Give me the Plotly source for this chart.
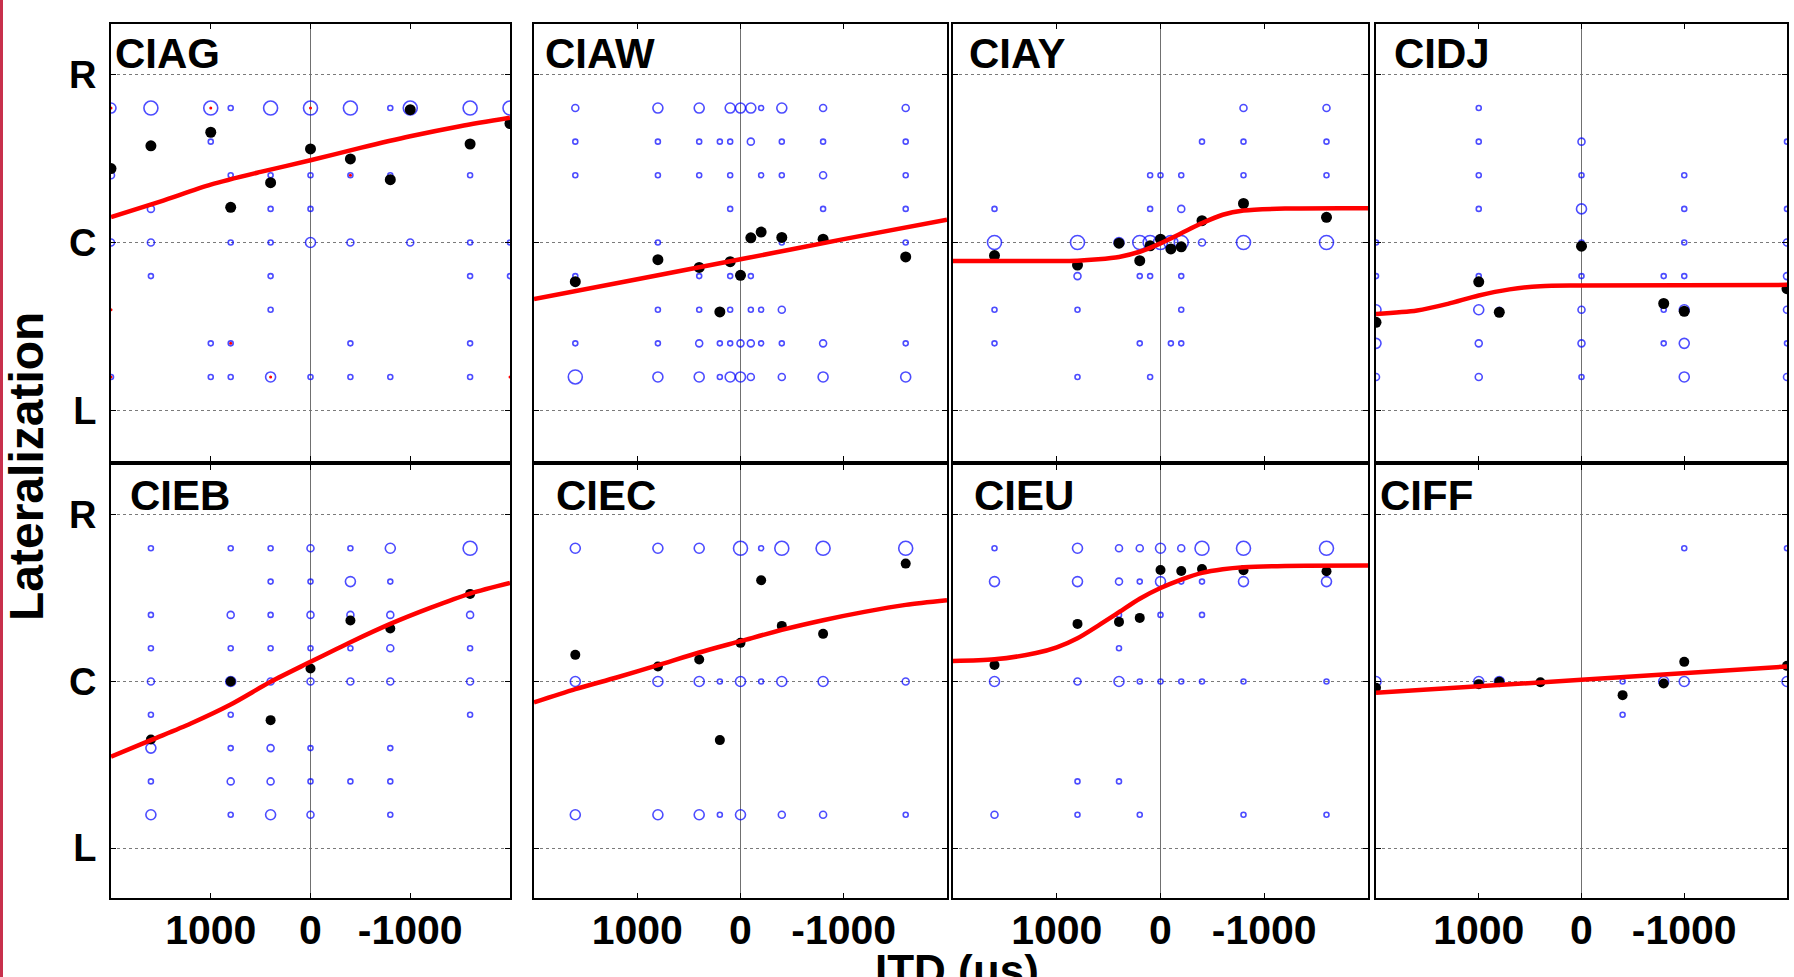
import plotly.graph_objects as go

W, H = 1794, 977

# ---------------- data ----------------
panel_names = ["CIAG", "CIAW", "CIAY", "CIDJ", "CIEB", "CIEC", "CIEU", "CIFF"]

# individual responses: (ITD us, lateralization, count level)
CIAG_resp = [(2000, .8, 3), (1600, .8, 4), (1000, .8, 4), (800, .8, 1), (400, .8, 4), (0, .8, 4), (-400, .8, 4),
             (-800, .8, 1), (-1000, .8, 4), (-1600, .8, 4), (-2000, .8, 4),
             (1000, .6, 1),
             (2000, .4, 2), (800, .4, 1), (400, .4, 1), (0, .4, 1), (-400, .4, 1), (-800, .4, 1), (-1600, .4, 1),
             (1600, .2, 2), (400, .2, 1), (0, .2, 1),
             (2000, 0, 2), (1600, 0, 2), (800, 0, 1), (400, 0, 1), (0, 0, 3), (-400, 0, 2), (-1000, 0, 2),
             (-1600, 0, 1), (-2000, 0, 1),
             (1600, -.2, 1), (400, -.2, 1), (-1600, -.2, 1), (-2000, -.2, 1),
             (400, -.4, 1),
             (1000, -.6, 1), (800, -.6, 1), (-400, -.6, 1), (-1600, -.6, 1),
             (2000, -.8, 1), (1000, -.8, 1), (800, -.8, 1), (400, -.8, 3), (0, -.8, 1), (-400, -.8, 1),
             (-800, -.8, 1), (-1600, -.8, 1)]
CIAW_resp = [(1600, .8, 2), (800, .8, 3), (400, .8, 3), (100, .8, 3), (0, .8, 3), (-100, .8, 3), (-200, .8, 1),
             (-400, .8, 3), (-800, .8, 2), (-1600, .8, 2),
             (1600, .6, 1), (800, .6, 1), (400, .6, 1), (200, .6, 1), (100, .6, 1), (-100, .6, 2), (-400, .6, 1),
             (-800, .6, 1), (-1600, .6, 1),
             (1600, .4, 1), (800, .4, 1), (400, .4, 1), (100, .4, 1), (-200, .4, 1), (-400, .4, 1), (-800, .4, 2),
             (-1600, .4, 1),
             (100, .2, 1), (-800, .2, 1), (-1600, .2, 1),
             (800, 0, 1), (-400, 0, 1), (-1600, 0, 1),
             (1600, -.2, 1), (400, -.2, 1), (100, -.2, 1), (-100, -.2, 1),
             (800, -.4, 1), (400, -.4, 1), (100, -.4, 1), (-100, -.4, 1), (-200, -.4, 1), (-400, -.4, 2),
             (1600, -.6, 1), (800, -.6, 1), (400, -.6, 2), (200, -.6, 1), (100, -.6, 1), (0, -.6, 2),
             (-100, -.6, 2), (-200, -.6, 1), (-400, -.6, 1), (-800, -.6, 2), (-1600, -.6, 1),
             (1600, -.8, 4), (800, -.8, 3), (400, -.8, 3), (200, -.8, 1), (100, -.8, 3), (0, -.8, 3),
             (-100, -.8, 2), (-400, -.8, 2), (-800, -.8, 3), (-1600, -.8, 3)]
CIAY_resp = [(-800, .8, 2), (-1600, .8, 2),
             (-400, .6, 1), (-800, .6, 1), (-1600, .6, 1),
             (100, .4, 1), (0, .4, 1), (-200, .4, 1), (-800, .4, 1), (-1600, .4, 1),
             (1600, .2, 1), (100, .2, 1), (-200, .2, 2),
             (1600, 0, 4), (800, 0, 4), (400, 0, 3), (200, 0, 4), (100, 0, 4), (0, 0, 4), (-100, 0, 4),
             (-200, 0, 4), (-400, 0, 2), (-800, 0, 4), (-1600, 0, 4),
             (800, -.2, 2), (200, -.2, 1), (100, -.2, 1), (-200, -.2, 1),
             (1600, -.4, 1), (800, -.4, 1), (-200, -.4, 1),
             (1600, -.6, 1), (200, -.6, 1), (-100, -.6, 1), (-200, -.6, 1),
             (800, -.8, 1), (100, -.8, 1)]
CIDJ_resp = [(1000, .8, 1),
             (1000, .6, 1), (0, .6, 2), (-2000, .6, 1),
             (1000, .4, 1), (0, .4, 1), (-1000, .4, 1),
             (1000, .2, 1), (0, .2, 3), (-1000, .2, 1), (-2000, .2, 1),
             (2000, 0, 1), (0, 0, 1), (-1000, 0, 1), (-2000, 0, 2),
             (2000, -.2, 1), (1000, -.2, 1), (0, -.2, 1), (-800, -.2, 1), (-1000, -.2, 1), (-2000, -.2, 2),
             (2000, -.4, 3), (1000, -.4, 3), (800, -.4, 1), (0, -.4, 2), (-800, -.4, 1), (-1000, -.4, 3),
             (-2000, -.4, 2),
             (2000, -.6, 3), (1000, -.6, 2), (0, -.6, 2), (-800, -.6, 1), (-1000, -.6, 3), (-2000, -.6, 1),
             (2000, -.8, 2), (1000, -.8, 2), (0, -.8, 1), (-1000, -.8, 3), (-2000, -.8, 2)]
CIEB_resp = [(1600, .8, 1), (800, .8, 1), (400, .8, 1), (0, .8, 2), (-400, .8, 1), (-800, .8, 3), (-1600, .8, 4),
             (400, .6, 1), (0, .6, 1), (-400, .6, 3), (-800, .6, 1),
             (1600, .4, 1), (800, .4, 2), (400, .4, 1), (0, .4, 2), (-400, .4, 2), (-800, .4, 2), (-1600, .4, 2),
             (1600, .2, 1), (800, .2, 1), (400, .2, 1), (0, .2, 1), (-400, .2, 1), (-800, .2, 2), (-1600, .2, 1),
             (1600, 0, 2), (800, 0, 3), (400, 0, 2), (0, 0, 2), (-400, 0, 2), (-800, 0, 2), (-1600, 0, 2),
             (1600, -.2, 1), (800, -.2, 1), (-1600, -.2, 1),
             (1600, -.4, 3), (800, -.4, 1), (400, -.4, 2), (0, -.4, 1), (-800, -.4, 1),
             (1600, -.6, 1), (800, -.6, 2), (400, -.6, 2), (0, -.6, 1), (-400, -.6, 1), (-800, -.6, 1),
             (1600, -.8, 3), (800, -.8, 1), (400, -.8, 3), (0, -.8, 2), (-800, -.8, 1)]
CIEC_resp = [(1600, .8, 3), (800, .8, 3), (400, .8, 3), (0, .8, 4), (-200, .8, 1), (-400, .8, 4), (-800, .8, 4),
             (-1600, .8, 4),
             (1600, 0, 3), (800, 0, 3), (400, 0, 3), (200, 0, 1), (0, 0, 3), (-200, 0, 1), (-400, 0, 3),
             (-800, 0, 3), (-1600, 0, 2),
             (1600, -.8, 3), (800, -.8, 3), (400, -.8, 3), (200, -.8, 1), (0, -.8, 3), (-400, -.8, 2),
             (-800, -.8, 2), (-1600, -.8, 1)]
CIEU_resp = [(1600, .8, 1), (800, .8, 3), (400, .8, 2), (200, .8, 2), (0, .8, 3), (-200, .8, 2), (-400, .8, 4),
             (-800, .8, 4), (-1600, .8, 4),
             (1600, .6, 3), (800, .6, 3), (400, .6, 2), (200, .6, 1), (0, .6, 3), (-200, .6, 1), (-400, .6, 1),
             (-800, .6, 3), (-1600, .6, 3),
             (400, .4, 1), (0, .4, 1), (-400, .4, 1),
             (400, .2, 1),
             (1600, 0, 3), (800, 0, 2), (400, 0, 3), (200, 0, 1), (0, 0, 1), (-200, 0, 1), (-400, 0, 1),
             (-800, 0, 1), (-1600, 0, 1),
             (800, -.6, 1), (400, -.6, 1),
             (1600, -.8, 2), (800, -.8, 1), (200, -.8, 1), (-800, -.8, 1), (-1600, -.8, 1)]
CIFF_resp = [(-1000, .8, 1), (-2000, .8, 1),
             (2000, 0, 3), (1000, 0, 3), (800, 0, 3), (400, 0, 1), (-400, 0, 1), (-800, 0, 3), (-1000, 0, 3),
             (-2000, 0, 3),
             (-400, -.2, 1)]

# small red marks (CIAG only)
CIAG_red_itd = [2000, 1000, 0, -400, 800, 400, 2000, -2000, 2000]
CIAG_red_lat = [0.8, 0.8, 0.8, 0.4, -0.6, -0.8, -0.8, -0.8, -0.4]

# mean responses
CIAG_mean_itd = [2000, 1600, 1000, 800, 400, 0, -400, -800, -1000, -1600, -2000]
CIAG_mean_lat = [0.44, 0.575, 0.656, 0.209, 0.356, 0.557, 0.497, 0.374, 0.79, 0.586, 0.708]
CIAW_mean_itd = [1600, 800, 400, 200, 100, 0, -100, -200, -400, -800, -1600]
CIAW_mean_lat = [-0.233, -0.102, -0.148, -0.413, -0.114, -0.195, 0.028, 0.062, 0.03, 0.02, -0.086]
CIAY_mean_itd = [1600, 800, 400, 200, 100, 0, -100, -200, -400, -800, -1600]
CIAY_mean_lat = [-0.078, -0.134, -0.004, -0.108, -0.02, 0.02, -0.038, -0.026, 0.13, 0.232, 0.15]
CIDJ_mean_itd = [2000, 1000, 800, 0, -800, -1000, -2000]
CIDJ_mean_lat = [-0.475, -0.234, -0.415, -0.022, -0.363, -0.409, -0.275]
CIEB_mean_itd = [1600, 800, 400, 0, -400, -800, -1600]
CIEB_mean_lat = [-0.348, 0.0, -0.232, 0.078, 0.366, 0.318, 0.526]
CIEC_mean_itd = [1600, 800, 400, 200, 0, -200, -400, -800, -1600]
CIEC_mean_lat = [0.16, 0.09, 0.132, -0.352, 0.232, 0.608, 0.334, 0.286, 0.708]
CIEU_mean_itd = [1600, 800, 400, 200, 0, -200, -400, -800, -1600]
CIEU_mean_lat = [0.099, 0.346, 0.358, 0.382, 0.67, 0.664, 0.676, 0.668, 0.662]
CIFF_mean_itd = [2000, 1000, 800, 400, -400, -800, -1000, -2000]
CIFF_mean_lat = [-0.038, -0.016, -0.002, -0.004, -0.082, -0.012, 0.118, 0.094]

# fitted curves
CIAG_fit_itd = [2000, 1500, 1000, 500, 0, -500, -1000, -1500, -2000]
CIAG_fit_lat = [0.151, 0.245, 0.344, 0.42, 0.489, 0.563, 0.632, 0.692, 0.742]
CIAW_fit_itd = [2000, 1000, 0, -1000, -2000]
CIAW_fit_lat = [-0.337, -0.219, -0.1, 0.02, 0.136]
CIAY_fit_itd = [2000, 1200, 800, 600, 400, 200, 0, -200, -400, -600, -800, -1200, -2000]
CIAY_fit_lat = [-0.11, -0.11, -0.108, -0.1, -0.086, -0.055, -0.005, 0.055, 0.115, 0.165, 0.19, 0.202, 0.204]
CIDJ_fit_itd = [2000, 1600, 1300, 1000, 700, 400, 0, -2000]
CIDJ_fit_lat = [-0.425, -0.405, -0.365, -0.315, -0.279, -0.26, -0.256, -0.252]
CIEB_fit_itd = [2000, 1600, 1200, 800, 400, 0, -400, -800, -1200, -1600, -2000]
CIEB_fit_lat = [-0.452, -0.352, -0.252, -0.138, -0.002, 0.118, 0.236, 0.346, 0.442, 0.528, 0.592]
CIEC_fit_itd = [2000, 1600, 1200, 800, 400, 0, -400, -800, -1200, -1600, -2000]
CIEC_fit_lat = [-0.126, -0.046, 0.024, 0.098, 0.174, 0.242, 0.31, 0.368, 0.418, 0.46, 0.488]
CIEU_fit_itd = [2000, 1600, 1200, 1000, 800, 600, 400, 200, 0, -200, -400, -600, -800, -1200, -2000]
CIEU_fit_lat = [0.123, 0.133, 0.171, 0.205, 0.26, 0.336, 0.416, 0.497, 0.561, 0.612, 0.652, 0.674, 0.686,
                0.694, 0.696]
CIFF_fit_itd = [2000, 0, -2000]
CIFF_fit_lat = [-0.068, 0.01, 0.09]

x_tick_vals = [1000, 0, -1000]
x_tick_text = ["1000", "0", "-1000"]
y_tick_vals = [1, 0, -1]
y_tick_text = ["R", "C", "L"]

resp = [CIAG_resp, CIAW_resp, CIAY_resp, CIDJ_resp, CIEB_resp, CIEC_resp, CIEU_resp, CIFF_resp]
means = [(CIAG_mean_itd, CIAG_mean_lat), (CIAW_mean_itd, CIAW_mean_lat), (CIAY_mean_itd, CIAY_mean_lat),
         (CIDJ_mean_itd, CIDJ_mean_lat), (CIEB_mean_itd, CIEB_mean_lat), (CIEC_mean_itd, CIEC_mean_lat),
         (CIEU_mean_itd, CIEU_mean_lat), (CIFF_mean_itd, CIFF_mean_lat)]
fits = [(CIAG_fit_itd, CIAG_fit_lat), (CIAW_fit_itd, CIAW_fit_lat), (CIAY_fit_itd, CIAY_fit_lat),
        (CIDJ_fit_itd, CIDJ_fit_lat), (CIEB_fit_itd, CIEB_fit_lat), (CIEC_fit_itd, CIEC_fit_lat),
        (CIEU_fit_itd, CIEU_fit_lat), (CIFF_fit_itd, CIFF_fit_lat)]

# ---------------- layout geometry (pixels) ----------------
col_px = [(111, 510), (534, 947), (953, 1368), (1376, 1787)]
row_px = [(24, 461), (465, 898)]
title_left_px = [113, 543, 967, 1392, 128, 554, 972, 1378]
title_mid_px = [53, 53, 53, 53, 496, 496, 496, 496]
size_map = {1: 5, 2: 7, 3: 10, 4: 14}

FONT = "Liberation Sans, Arial, sans-serif"


def px_x(v):
    return v / W


def px_y(v):
    return 1 - v / H


fig = go.Figure()
layout = {}
annotations = []

for i, name in enumerate(panel_names):
    r, c = divmod(i, 4)
    k = "" if i == 0 else str(i + 1)
    xa, ya = "x" + k, "y" + k
    pts = resp[i]
    fig.add_trace(go.Scatter(
        x=[p[0] for p in pts], y=[p[1] for p in pts], mode="markers",
        marker=dict(symbol="circle-open", color="#0000FF", size=[size_map[p[2]] for p in pts],
                    line=dict(width=1.6, color="#0000FF")),
        xaxis=xa, yaxis=ya, showlegend=False, hoverinfo="skip"))
    if name == "CIAG":
        fig.add_trace(go.Scatter(
            x=CIAG_red_itd, y=CIAG_red_lat, mode="markers",
            marker=dict(symbol="circle", color="#FF0000", size=3),
            xaxis=xa, yaxis=ya, showlegend=False, hoverinfo="skip"))
    mx, my = means[i]
    fig.add_trace(go.Scatter(
        x=mx, y=my, mode="markers",
        marker=dict(symbol="circle", color="black", size=11 if r == 0 else 10),
        xaxis=xa, yaxis=ya, showlegend=False, hoverinfo="skip"))
    fx, fy = fits[i]
    fig.add_trace(go.Scatter(
        x=fx, y=fy, mode="lines", line=dict(color="#FF0000", width=4.5, shape="spline", smoothing=0.8),
        xaxis=xa, yaxis=ya, showlegend=False, hoverinfo="skip"))

    x0, x1 = col_px[c]
    t0, t1 = row_px[r]
    layout["xaxis" + k] = dict(
        domain=[px_x(x0), px_x(x1)], anchor=ya, range=[2000, -2000], autorange=False,
        showline=True, linecolor="black", linewidth=1.8, mirror="ticks",
        ticks="inside", ticklen=5, tickcolor="black", tickwidth=1,
        tickvals=x_tick_vals, ticktext=x_tick_text, showticklabels=(r == 1),
        tickfont=dict(family=FONT, size=41, color="black", weight="bold"),
        ticklabelstandoff=-5,
        showgrid=False, zeroline=True, zerolinecolor="#707070", zerolinewidth=1, fixedrange=True)
    layout["yaxis" + k] = dict(
        domain=[px_y(t1), px_y(t0)], anchor=xa, range=[-1.3, 1.3], autorange=False,
        showline=True, linecolor="black", linewidth=1.8, mirror="ticks",
        ticks="inside", ticklen=5, tickcolor="black", tickwidth=1,
        tickvals=y_tick_vals, ticktext=y_tick_text, showticklabels=(c == 0),
        tickfont=dict(family=FONT, size=38, color="black", weight="bold"),
        ticklabelstandoff=5,
        showgrid=True, gridcolor="#7a7a7a", griddash="dot", gridwidth=1, zeroline=False, fixedrange=True)
    annotations.append(dict(
        x=px_x(title_left_px[i]), y=px_y(title_mid_px[i]), xref="paper", yref="paper",
        xanchor="left", yanchor="middle", text=name, showarrow=False,
        font=dict(family=FONT, size=42, color="black", weight="bold")))

annotations.append(dict(
    x=px_x(957), y=px_y(944), xref="paper", yref="paper", xanchor="center", yanchor="top",
    text="ITD (μs)", showarrow=False, font=dict(family=FONT, size=44, color="black", weight="bold")))
annotations.append(dict(
    x=px_x(26), y=px_y(467), xref="paper", yref="paper", xanchor="center", yanchor="middle",
    text="Lateralization", textangle=-90, showarrow=False,
    font=dict(family=FONT, size=48, color="black", weight="bold")))

fig.update_layout(
    width=W, height=H, margin=dict(l=0, r=0, t=0, b=0),
    paper_bgcolor="white", plot_bgcolor="white",
    annotations=annotations,
    shapes=[dict(type="rect", xref="paper", yref="paper", x0=0, x1=px_x(3), y0=0, y1=1,
                 fillcolor="#C8304C", line=dict(width=0), layer="above")],
    **layout)

fig.write_html("out.html", config={"displayModeBar": False},
               post_script="document.body.style.margin='0px';document.body.style.overflow='hidden';")
